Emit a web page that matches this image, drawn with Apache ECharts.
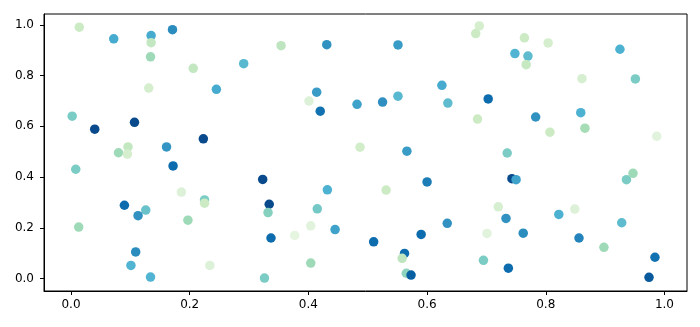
<!DOCTYPE html>
<html>
<head>
<meta charset="utf-8">
<script src="https://cdn.jsdelivr.net/npm/echarts@6/dist/echarts.min.js"></script>
<style>html,body{margin:0;padding:0;background:#fff;}#c{width:700px;height:327px;}</style>
</head>
<body>
<div id="c"></div>
<script>
// x values
const xs = [0.014,0.072,0.135,0.135,0.171,0.134,0.206,0.291,0.245,0.131,
0.002,0.040,0.107,0.223,0.161,0.096,0.080,0.095,0.172,0.008,
0.186,0.225,0.225,0.090,0.126,0.113,0.197,0.013,0.109,0.101,
0.134,0.234,0.354,0.431,0.551,0.414,0.401,0.420,0.482,0.525,
0.551,0.625,0.635,0.487,0.566,0.323,0.600,0.432,0.531,0.334,
0.332,0.415,0.404,0.377,0.445,0.337,0.510,0.590,0.634,0.562,
0.558,0.404,0.326,0.565,0.573,0.688,0.682,0.764,0.804,0.748,
0.770,0.767,0.925,0.861,0.951,0.703,0.783,0.859,0.685,0.807,
0.866,0.987,0.735,0.743,0.750,0.936,0.947,0.720,0.849,0.733,
0.822,0.928,0.701,0.762,0.856,0.898,0.695,0.737,0.984,0.974];
// y values
const ys = [0.991,0.945,0.958,0.930,0.981,0.874,0.829,0.847,0.746,0.751,
0.640,0.589,0.616,0.551,0.519,0.519,0.496,0.491,0.444,0.431,
0.341,0.310,0.297,0.289,0.270,0.248,0.230,0.203,0.105,0.052,
0.006,0.052,0.918,0.922,0.921,0.735,0.700,0.660,0.687,0.696,
0.719,0.762,0.692,0.518,0.502,0.391,0.381,0.350,0.349,0.293,
0.260,0.275,0.208,0.170,0.193,0.160,0.145,0.174,0.218,0.099,
0.080,0.061,0.002,0.021,0.014,0.996,0.966,0.949,0.929,0.887,
0.877,0.843,0.904,0.788,0.787,0.708,0.637,0.654,0.629,0.577,
0.593,0.561,0.495,0.394,0.390,0.390,0.415,0.283,0.274,0.237,
0.253,0.220,0.178,0.179,0.160,0.123,0.072,0.041,0.084,0.005];
// colour values (0..1, GnBu colormap)
const cs = [0.25,0.65,0.65,0.28,0.75,0.40,0.28,0.60,0.65,0.20,
0.50,0.97,0.97,0.97,0.72,0.28,0.40,0.20,0.86,0.50,
0.15,0.50,0.25,0.86,0.55,0.73,0.40,0.40,0.75,0.62,
0.62,0.15,0.30,0.73,0.70,0.70,0.15,0.84,0.68,0.74,
0.60,0.65,0.58,0.22,0.70,0.97,0.80,0.63,0.25,0.97,
0.47,0.52,0.12,0.10,0.68,0.86,0.86,0.86,0.73,0.86,
0.30,0.40,0.50,0.45,0.90,0.20,0.25,0.25,0.20,0.62,
0.58,0.27,0.63,0.18,0.50,0.86,0.73,0.63,0.25,0.25,
0.38,0.12,0.50,0.97,0.68,0.50,0.40,0.18,0.15,0.73,
0.63,0.58,0.12,0.75,0.78,0.40,0.50,0.86,0.84,0.92];
const tickVals = [0, 0.2, 0.4, 0.6, 0.8, 1.0];
const gnbu = ['#f7fcf0','#e0f3db','#ccebc5','#a8ddb5','#7bccc4','#4eb3d3','#2b8cbe','#0868ac','#084081'];

const data = xs.map((x, i) => [x, ys[i], cs[i]]);
const chart = echarts.init(document.getElementById('c'), null, {renderer: 'canvas'});
const axisCommon = {
  type: 'value',
  splitLine: {show: false},
  axisLine: {show: true, onZero: false, lineStyle: {color: '#000', width: 1}},
  axisTick: {show: true, inside: false, length: 4, lineStyle: {color: '#000', width: 1}, customValues: tickVals},
  axisLabel: {color: '#000', fontFamily: 'DejaVu Sans', fontSize: 12, customValues: tickVals,
    formatter: v => v.toFixed(1)}
};
chart.setOption({
  animation: false,
  backgroundColor: '#fff',
  grid: {left: 44, right: 13, top: 14, bottom: 36, show: true, borderColor: '#000', borderWidth: 1, backgroundColor: 'transparent'},
  xAxis: Object.assign({}, axisCommon, {min: -0.0455, max: 1.038,
    axisLabel: Object.assign({}, axisCommon.axisLabel, {margin: 8})}),
  yAxis: Object.assign({}, axisCommon, {min: -0.049, max: 1.043,
    axisLabel: Object.assign({}, axisCommon.axisLabel, {margin: 10})}),
  visualMap: {show: false, type: 'continuous', dimension: 2, min: 0, max: 1, inRange: {color: gnbu}},
  series: [{
    type: 'scatter',
    data: data,
    symbolSize: 9.5,
    itemStyle: {opacity: 1}
  }]
});
</script>
</body>
</html>
